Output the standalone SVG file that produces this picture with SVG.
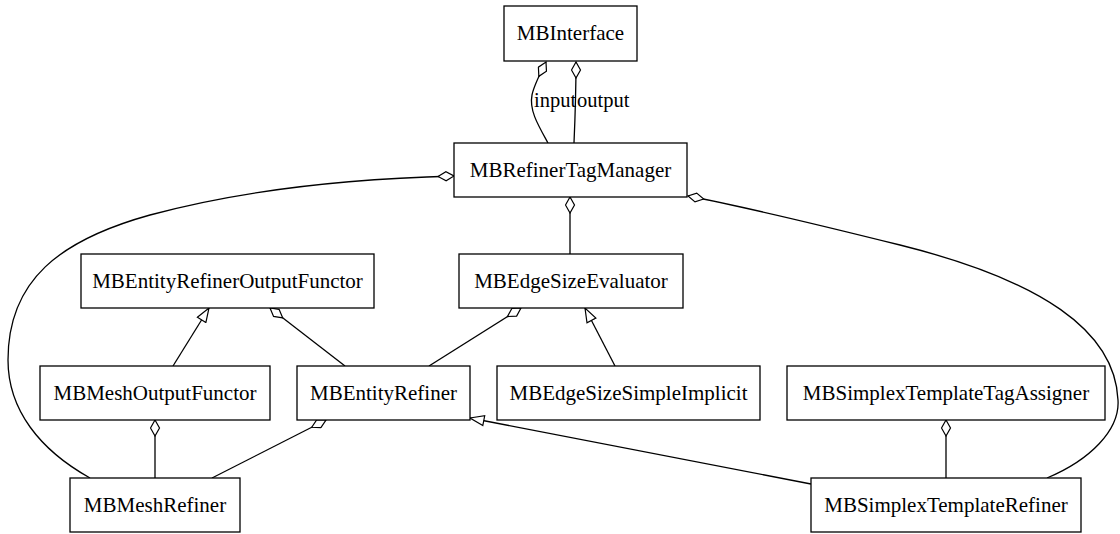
<svg xmlns="http://www.w3.org/2000/svg" width="1120" height="534" viewBox="0 0 1120 534">
<style>
.box{fill:#fff;stroke:#000;stroke-width:1.3}
.lbl{font-family:"Liberation Serif","Times New Roman",serif;font-size:21px;fill:#000;text-anchor:middle}
.elbl{font-family:"Liberation Serif","Times New Roman",serif;font-size:20.5px;fill:#000}
.agg{fill:none;stroke:#000;stroke-width:1.3;marker-end:url(#diamond)}
.inh{fill:none;stroke:#000;stroke-width:1.3;marker-end:url(#tri)}
</style>
<defs>
<marker id="diamond" viewBox="-1 -1 18 11" refX="16" refY="4.5" markerWidth="18" markerHeight="11" markerUnits="userSpaceOnUse" orient="auto">
<path d="M0,4.5 L8,0 L16,4.5 L8,9 Z" fill="#fff" stroke="#000" stroke-width="1.2"/>
</marker>
<marker id="tri" viewBox="-1 -1 16 12" refX="14" refY="5" markerWidth="16" markerHeight="12" markerUnits="userSpaceOnUse" orient="auto">
<path d="M0,0 L14,5 L0,10 Z" fill="#fff" stroke="#000" stroke-width="1.2"/>
</marker>
</defs>
<g id="connectors">
<path class="agg" d="M548,143 C538,125 529,110 532,95 C534,85 541,72 546,62"/>
<path class="agg" d="M574,143 C575,120 576,90 576,62"/>
<path class="agg" d="M570,254 L570,197"/>
<path class="agg" d="M90,478 C40,450 8,410 8,360 C8,280 60,240 150,215 C260,185 380,178 454,176"/>
<path class="agg" d="M1047,478 C1090,460 1120,430 1118,400 C1115,330 1040,280 900,245 C820,225 750,208 688,196"/>
<path class="agg" d="M345,366 L270,308"/>
<path class="inh" d="M173,366 L209,308"/>
<path class="agg" d="M429,366 L521,308"/>
<path class="inh" d="M615,366 L585,308"/>
<path class="agg" d="M155,478 L155,420"/>
<path class="agg" d="M212,478 L326,420"/>
<path class="inh" d="M811,484 L470,418"/>
<path class="agg" d="M946,478 L946,420"/>
<text class="elbl" x="534" y="107">input</text>
<text class="elbl" x="577" y="107">output</text>
</g>
<g id="MBInterface"><rect class="box" x="504" y="6" width="133" height="55"/><text class="lbl" x="570.5" y="40">MBInterface</text></g>
<g id="MBRefinerTagManager"><rect class="box" x="454" y="143" width="233" height="54"/><text class="lbl" x="570.5" y="177">MBRefinerTagManager</text></g>
<g id="MBEntityRefinerOutputFunctor"><rect class="box" x="81" y="254" width="293" height="54"/><text class="lbl" x="227.5" y="288">MBEntityRefinerOutputFunctor</text></g>
<g id="MBEdgeSizeEvaluator"><rect class="box" x="459" y="254" width="224" height="54"/><text class="lbl" x="571" y="288">MBEdgeSizeEvaluator</text></g>
<g id="MBMeshOutputFunctor"><rect class="box" x="40" y="366" width="230" height="54"/><text class="lbl" x="155" y="400">MBMeshOutputFunctor</text></g>
<g id="MBEntityRefiner"><rect class="box" x="297" y="366" width="173" height="54"/><text class="lbl" x="383.5" y="400">MBEntityRefiner</text></g>
<g id="MBEdgeSizeSimpleImplicit"><rect class="box" x="497" y="366" width="263" height="54"/><text class="lbl" x="628.5" y="400">MBEdgeSizeSimpleImplicit</text></g>
<g id="MBSimplexTemplateTagAssigner"><rect class="box" x="787" y="366" width="318" height="54"/><text class="lbl" x="946" y="400">MBSimplexTemplateTagAssigner</text></g>
<g id="MBMeshRefiner"><rect class="box" x="70" y="478" width="170" height="54"/><text class="lbl" x="155" y="512">MBMeshRefiner</text></g>
<g id="MBSimplexTemplateRefiner"><rect class="box" x="811" y="478" width="270" height="54"/><text class="lbl" x="946" y="512">MBSimplexTemplateRefiner</text></g>
</svg>
